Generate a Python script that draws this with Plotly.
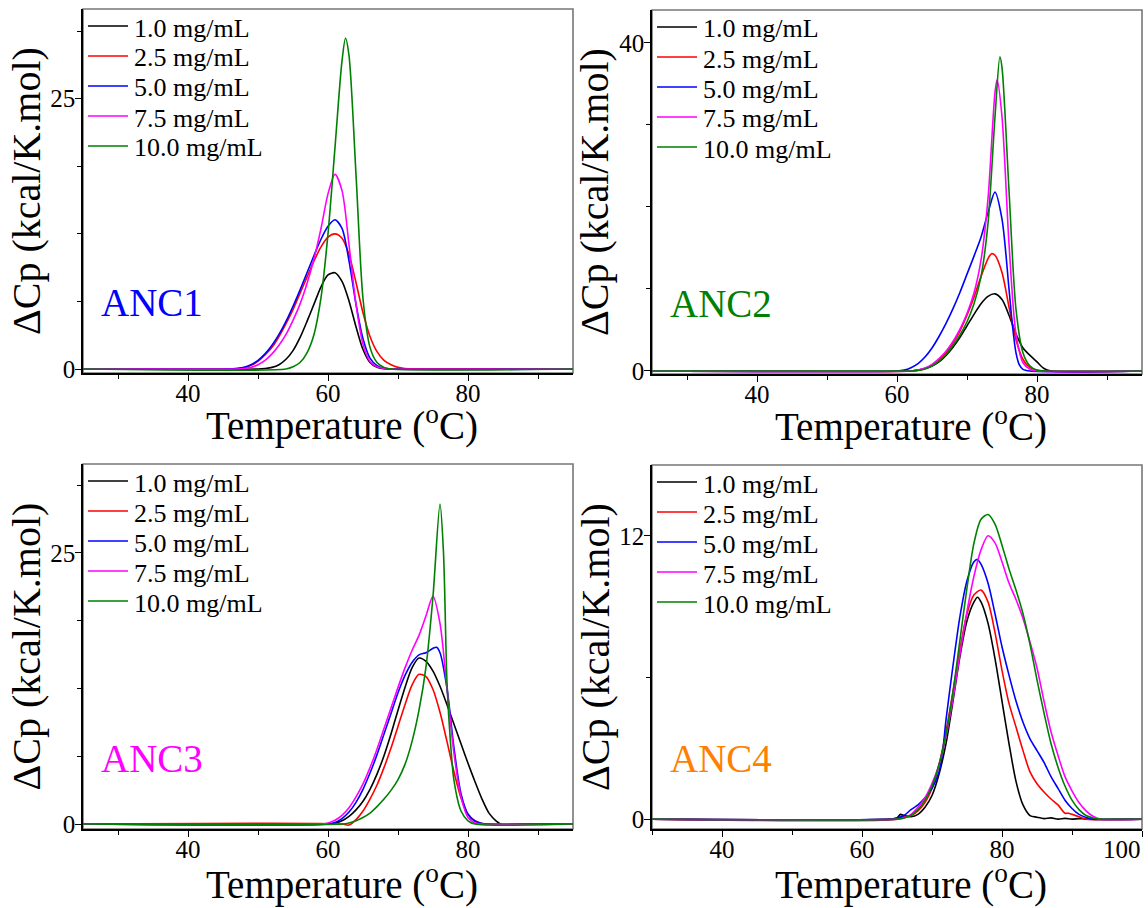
import plotly.graph_objects as go

W, H = 1148, 908
FONT = "'Liberation Serif', 'Times New Roman', Times, serif"

CONC_LABELS = ["1.0 mg/mL", "2.5 mg/mL", "5.0 mg/mL", "7.5 mg/mL", "10.0 mg/mL"]
CONC_COLORS = ["#000000", "#FF0000", "#0000FF", "#FF00FF", "#008000"]
PANEL_NAMES = ["ANC1", "ANC2", "ANC3", "ANC4"]
PANEL_NAME_COLORS = ["#0000FF", "#008000", "#FF00FF", "#FF8000"]

# ---------------- ANC1 ----------------
ANC1_T_1 = [25, 50, 51, 52, 53, 54, 55, 56, 57, 58, 59, 60, 61, 62, 63, 64, 65, 66, 67, 68, 69, 95]
ANC1_CP_1 = [0, 0, 0.05, 0.15, 0.4, 0.9, 1.7, 2.9, 4.4, 6.0, 7.6, 8.7, 8.9, 8.1, 6.3, 3.9, 1.8, 0.6, 0.15, 0.03, 0, 0]
ANC1_T_2 = [25, 46, 47, 48, 49, 50, 51, 52, 53, 54, 55, 56, 57, 58, 59, 60, 61, 62, 63, 64, 65, 66, 67, 68, 69, 70, 71, 72, 95]
ANC1_CP_2 = [0, 0, 0.05, 0.12, 0.35, 0.7, 1.3, 2.0, 3.0, 4.2, 5.5, 7.0, 8.5, 10.0, 11.3, 12.2, 12.5, 12.1, 10.6, 8.0, 5.2, 3.0, 1.6, 0.8, 0.4, 0.15, 0.05, 0, 0]
ANC1_T_5 = [25, 46, 47, 48, 49, 50, 51, 52, 53, 54, 55, 56, 57, 58, 59, 60, 61, 62, 63, 64, 65, 66, 67, 68, 69, 95]
ANC1_CP_5 = [0, 0, 0.05, 0.15, 0.4, 0.8, 1.4, 2.2, 3.2, 4.4, 5.8, 7.3, 8.9, 10.5, 12.0, 13.2, 13.8, 13.0, 10.0, 6.0, 2.8, 1.0, 0.3, 0.08, 0, 0]
ANC1_T_7 = [25, 47, 48, 49, 50, 51, 52, 53, 54, 55, 56, 57, 58, 59, 60, 61, 62, 63, 64, 65, 66, 67, 68, 69, 95]
ANC1_CP_7 = [0, 0, 0.05, 0.15, 0.4, 0.8, 1.4, 2.2, 3.2, 4.5, 6.0, 7.9, 10.2, 13.0, 16.2, 18.0, 16.5, 11.5, 6.0, 2.3, 0.7, 0.2, 0.05, 0, 0]
ANC1_T_10 = [25, 54, 55, 56, 57, 58, 59, 60, 61, 62, 62.5, 63, 64, 65, 66, 67, 68, 69, 95]
ANC1_CP_10 = [0, 0, 0.2, 0.6, 1.5, 3.2, 6.6, 12.5, 20.5, 28.5, 30.6, 29.0, 18.0, 6.5, 2.0, 0.6, 0.15, 0, 0]

# ---------------- ANC2 ----------------
ANC2_T_1 = [25, 62, 63, 64, 65, 66, 67, 68, 69, 70, 71, 72, 73, 74, 75, 76, 77, 78, 79, 80, 81, 82, 95]
ANC2_CP_1 = [0, 0, 0.1, 0.3, 0.6, 1.1, 1.9, 2.9, 4.1, 5.5, 6.9, 8.2, 9.1, 9.4, 8.7, 6.8, 4.5, 2.8, 1.9, 1.1, 0.3, 0, 0]
ANC2_T_2 = [25, 62, 63, 64, 65, 66, 67, 68, 69, 70, 71, 72, 73, 73.5, 74, 75, 76, 77, 78, 79, 80, 81, 95]
ANC2_CP_2 = [0, 0, 0.1, 0.3, 0.7, 1.3, 2.2, 3.4, 4.9, 6.8, 9.0, 11.5, 13.7, 14.3, 14.1, 12.0, 7.8, 3.8, 1.4, 0.4, 0.1, 0, 0]
ANC2_T_5 = [25, 60, 61, 62, 63, 64, 65, 66, 67, 68, 69, 70, 71, 72, 73, 74, 75, 76, 76.5, 77, 77.5, 78, 79, 95]
ANC2_CP_5 = [0, 0, 0.1, 0.4, 0.9, 1.7, 2.8, 4.2, 5.8, 7.6, 9.6, 11.8, 14.0, 16.3, 19.3, 21.8, 18.5, 10.0, 5.5, 2.2, 0.7, 0.2, 0, 0]
ANC2_T_7 = [25, 62, 63, 64, 65, 66, 67, 68, 69, 70, 71, 72, 73, 74, 74.3, 75, 76, 77, 78, 79, 80, 95]
ANC2_CP_7 = [0, 0, 0.1, 0.35, 0.8, 1.5, 2.4, 3.6, 5.1, 7.0, 9.5, 13.5, 21.0, 34.0, 35.5, 31.0, 15.5, 4.5, 1.0, 0.2, 0, 0]
ANC2_T_10 = [25, 62, 63, 64, 65, 66, 67, 68, 69, 70, 71, 72, 73, 74, 74.7, 75, 76, 77, 78, 79, 80, 81, 95]
ANC2_CP_10 = [0, 0, 0.05, 0.25, 0.6, 1.2, 2.0, 3.1, 4.4, 6.0, 8.2, 11.5, 18.0, 31.0, 38.3, 37.0, 22.0, 7.5, 2.2, 0.6, 0.1, 0, 0]

# ---------------- ANC3 ----------------
ANC3_T_1 = [25, 60, 61, 62, 63, 64, 65, 66, 67, 68, 69, 70, 71, 72, 73, 74, 75, 76, 77, 78, 79, 80, 81, 82, 83, 84, 85, 86, 87, 95]
ANC3_CP_1 = [0, 0, 0.1, 0.3, 0.7, 1.3, 2.1, 3.2, 4.6, 6.3, 8.3, 10.5, 12.6, 14.4, 15.3, 15.0, 14.1, 12.7, 11.0, 9.2, 7.4, 5.6, 3.9, 2.3, 1.0, 0.3, -0.1, -0.05, 0, 0]
ANC3_T_2 = [25, 62, 63, 64, 65, 66, 67, 68, 69, 70, 71, 72, 73, 74, 75, 76, 77, 78, 79, 80, 81, 82, 83, 95]
ANC3_CP_2 = [0, 0, -0.1, 0.4, 1.2, 2.3, 3.6, 5.2, 7.0, 9.0, 11.0, 12.8, 13.8, 13.6, 12.4, 10.3, 7.6, 4.8, 2.4, 0.9, 0.3, 0.05, 0, 0]
ANC3_T_5 = [25, 60, 61, 62, 63, 64, 65, 66, 67, 68, 69, 70, 71, 72, 73, 74, 75, 75.5, 76, 77, 78, 79, 80, 81, 82, 83, 95]
ANC3_CP_5 = [0, 0, 0.15, 0.5, 1.1, 2.0, 3.2, 4.7, 6.4, 8.3, 10.2, 12.1, 13.7, 14.9, 15.6, 15.8, 16.2, 16.3, 15.8, 12.5, 7.0, 2.8, 0.9, 0.25, 0.05, 0, 0]
ANC3_T_7 = [25, 59, 60, 61, 62, 63, 64, 65, 66, 67, 68, 69, 70, 71, 72, 73, 74, 75, 76, 77, 78, 79, 80, 81, 82, 95]
ANC3_CP_7 = [0, 0, 0.1, 0.35, 0.8, 1.5, 2.5, 3.7, 5.2, 6.9, 8.8, 10.7, 12.6, 14.4, 16.0, 17.4, 19.2, 21.0, 18.5, 12.5, 6.5, 2.5, 0.6, 0.1, 0, 0]
ANC3_T_10 = [25, 62, 63, 64, 65, 66, 67, 68, 69, 70, 71, 72, 73, 74, 75, 76, 76.5, 77, 77.5, 78, 79, 80, 81, 95]
ANC3_CP_10 = [0, 0, 0.1, 0.3, 0.6, 1.0, 1.6, 2.3, 3.1, 4.1, 5.5, 7.6, 10.5, 14.5, 21.0, 29.5, 25.0, 13.0, 7.5, 4.0, 1.2, 0.3, 0, 0]

# ---------------- ANC4 ----------------
ANC4_T_1 = [30, 64, 65, 65.5, 66, 67, 68, 69, 70, 71, 72, 73, 74, 75, 76, 76.5, 77, 78, 79, 80, 81, 82, 83, 84, 85, 86, 87, 88, 89, 90, 91, 92, 100]
ANC4_CP_1 = [0, 0, 0.05, 0.2, 0.15, 0.1, 0.2, 0.5, 1.0, 1.9, 3.2, 5.0, 6.9, 8.4, 9.2, 9.4, 9.2, 8.3, 6.8, 5.0, 3.2, 1.6, 0.6, 0.15, 0.08, 0.02, 0.05, 0, 0.03, 0, 0.02, 0, 0]
ANC4_T_2 = [30, 65, 66, 67, 68, 69, 70, 71, 72, 73, 74, 75, 76, 77, 78, 79, 80, 81, 82, 83, 84, 85, 86, 87, 88, 89, 89.5, 90, 91, 92, 100]
ANC4_CP_2 = [0, 0, 0.1, 0.15, 0.35, 0.7, 1.3, 2.3, 3.7, 5.4, 7.2, 8.7, 9.5, 9.7, 9.2, 7.9, 6.3, 4.9, 3.9, 2.9, 2.0, 1.5, 1.15, 0.85, 0.6, 0.25, 0.25, 0.2, 0.1, 0, 0]
ANC4_T_5 = [30, 64, 65, 66, 67, 68, 69, 70, 71, 71.5, 72, 73, 74, 75, 76, 76.5, 77, 78, 79, 80, 81, 82, 83, 84, 85, 86, 87, 88, 89, 90, 91, 92, 93, 100]
ANC4_CP_5 = [0, 0, 0.05, 0.15, 0.4, 0.6, 0.9, 1.3, 2.0, 2.8, 4.2, 6.5, 8.6, 10.1, 10.9, 11.0, 10.8, 10.0, 8.7, 7.3, 6.1, 5.0, 4.1, 3.4, 2.9, 2.4, 1.8, 1.3, 0.8, 0.45, 0.2, 0.07, 0, 0]
ANC4_T_7 = [30, 65, 66, 67, 68, 69, 70, 71, 72, 73, 74, 75, 76, 77, 78, 79, 80, 81, 82, 83, 84, 85, 86, 87, 88, 89, 90, 91, 92, 93, 94, 100]
ANC4_CP_7 = [0, 0, 0.05, 0.2, 0.5, 0.9, 1.5, 2.3, 3.5, 5.1, 7.0, 8.8, 10.3, 11.4, 12.0, 11.7, 10.9, 10.0, 9.3, 8.5, 7.5, 6.4, 5.0, 3.7, 2.7, 1.8, 1.2, 0.7, 0.35, 0.12, 0, 0]
ANC4_T_10 = [30, 65, 66, 67, 68, 69, 70, 71, 72, 73, 74, 75, 76, 77, 78, 79, 80, 81, 82, 83, 84, 85, 86, 87, 88, 89, 90, 91, 92, 93, 94, 100]
ANC4_CP_10 = [0, 0, 0.05, 0.15, 0.4, 0.8, 1.4, 2.3, 3.6, 5.4, 7.6, 9.8, 11.7, 12.7, 12.9, 12.5, 11.6, 10.6, 9.7, 8.7, 7.4, 5.9, 4.5, 3.2, 2.2, 1.4, 0.8, 0.4, 0.15, 0.05, 0, 0]

PANEL_CURVES = [
    [(ANC1_T_1, ANC1_CP_1), (ANC1_T_2, ANC1_CP_2), (ANC1_T_5, ANC1_CP_5), (ANC1_T_7, ANC1_CP_7), (ANC1_T_10, ANC1_CP_10)],
    [(ANC2_T_1, ANC2_CP_1), (ANC2_T_2, ANC2_CP_2), (ANC2_T_5, ANC2_CP_5), (ANC2_T_7, ANC2_CP_7), (ANC2_T_10, ANC2_CP_10)],
    [(ANC3_T_1, ANC3_CP_1), (ANC3_T_2, ANC3_CP_2), (ANC3_T_5, ANC3_CP_5), (ANC3_T_7, ANC3_CP_7), (ANC3_T_10, ANC3_CP_10)],
    [(ANC4_T_1, ANC4_CP_1), (ANC4_T_2, ANC4_CP_2), (ANC4_T_5, ANC4_CP_5), (ANC4_T_7, ANC4_CP_7), (ANC4_T_10, ANC4_CP_10)],
]

X_RANGES = [[25, 95], [25, 95], [25, 95], [30, 100]]
X_TICKS = [[40, 60, 80], [40, 60, 80], [40, 60, 80], [40, 60, 80, 100]]
Y_RANGES = [[-0.37, 33.3], [-0.37, 44.0], [-0.46, 33.2], [-0.42, 15.0]]
Y_DTICK = [25, 40, 25, 12]
Y_MINOR = [6.25, 10, 6.25, 6]

# panel boxes in pixels: left, right, top, bottom
BOXES = [(83, 573, 9, 373), (652, 1142, 10, 374), (83, 573, 464, 829), (652, 1142, 465, 829)]
XTITLE_GAP = [50, 50, 53, 53]


def px_x(p):
    return p / W


def px_y(p):
    return 1 - p / H


fig = go.Figure()
layout = dict(
    width=W, height=H,
    margin=dict(l=0, r=0, t=0, b=0, autoexpand=False),
    paper_bgcolor="white", plot_bgcolor="white",
    showlegend=False,
    font=dict(family=FONT, color="black"),
)

shapes = []
annotations = []

for i in range(4):
    n = i + 1
    xa = "x" if n == 1 else f"x{n}"
    ya = "y" if n == 1 else f"y{n}"
    left, right, top, bottom = BOXES[i]

    for (t, cp), label, color in zip(PANEL_CURVES[i], CONC_LABELS, CONC_COLORS):
        fig.add_trace(go.Scatter(
            x=t, y=cp, mode="lines", name=label,
            line=dict(color=color, width=1.6, shape="spline", smoothing=0.8),
            xaxis=xa, yaxis=ya,
        ))

    # the last tick label at the right page edge is drawn separately (right-aligned)
    xticks = X_TICKS[i]
    xtext = [str(v) if v < X_RANGES[i][1] else "" for v in xticks]
    layout["xaxis" if n == 1 else f"xaxis{n}"] = dict(
        domain=[px_x(left), px_x(right)], range=X_RANGES[i], anchor=ya,
        tickvals=xticks, ticktext=xtext, ticks="outside", ticklen=6, tickwidth=1.2,
        tickcolor="black", ticklabelstandoff=-9, automargin=False,
        showline=True, linecolor="black", linewidth=1.6,
        showgrid=False, zeroline=False,
        minor=dict(dtick=10, tick0=0, ticks="outside", ticklen=4, tickwidth=1.2,
                   tickcolor="black", showgrid=False),
        tickfont=dict(family=FONT, size=25, color="black"),
    )
    layout["yaxis" if n == 1 else f"yaxis{n}"] = dict(
        domain=[px_y(bottom), px_y(top)], range=Y_RANGES[i], anchor=xa,
        tick0=0, dtick=Y_DTICK[i], ticks="outside", ticklen=6, tickwidth=1.2, tickcolor="black",
        ticklabelstandoff=-5, automargin=False,
        showline=True, linecolor="black", linewidth=1.6,
        showgrid=False, zeroline=False,
        minor=dict(dtick=Y_MINOR[i], tick0=0, ticks="outside", ticklen=4, tickwidth=1.2,
                   tickcolor="black", showgrid=False),
        tickfont=dict(family=FONT, size=25, color="black"),
    )
    for v in xticks:
        if v >= X_RANGES[i][1]:
            annotations.append(dict(
                text=str(v), xref=xa, yref="paper", x=v, y=px_y(bottom + 20),
                xanchor="right", yanchor="middle", showarrow=False, xshift=1,
                font=dict(family=FONT, size=25, color="black"),
            ))

    # grey frame around each panel
    shapes.append(dict(type="rect", xref=f"{xa} domain", yref=f"{ya} domain",
                       x0=0, x1=1, y0=0, y1=1, layer="below",
                       line=dict(color="#777777", width=1.6)))

    # axis titles
    annotations.append(dict(
        text="Temperature (<sup>o</sup>C)", xref="paper", yref="paper",
        x=px_x((left + right) / 2 + 14), y=px_y(bottom + XTITLE_GAP[i]),
        xanchor="center", yanchor="middle", showarrow=False,
        font=dict(family=FONT, size=39, color="black"),
    ))
    annotations.append(dict(
        text="ΔCp (kcal/K.mol)", xref="paper", yref="paper",
        x=px_x(left - 57), y=px_y((top + bottom) / 2),
        xanchor="center", yanchor="middle", textangle=-90, showarrow=False,
        font=dict(family=FONT, size=40, color="black"),
    ))

    # panel name
    annotations.append(dict(
        text=PANEL_NAMES[i], xref="paper", yref="paper",
        x=px_x(left + 16), y=px_y(bottom - 71),
        xanchor="left", yanchor="middle", showarrow=False,
        font=dict(family=FONT, size=39, color=PANEL_NAME_COLORS[i]),
    ))

    # concentration key
    for k, (label, color) in enumerate(zip(CONC_LABELS, CONC_COLORS)):
        row_y = top + 17 + 30 * k
        shapes.append(dict(type="line", xref="paper", yref="paper",
                           x0=px_x(left + 5), x1=px_x(left + 45),
                           y0=px_y(row_y), y1=px_y(row_y),
                           line=dict(color=color, width=1.6)))
        annotations.append(dict(
            text=label, xref="paper", yref="paper",
            x=px_x(left + 49), y=px_y(row_y + 2),
            xanchor="left", yanchor="middle", showarrow=False,
            font=dict(family=FONT, size=26, color="black"),
        ))

layout["shapes"] = shapes
layout["annotations"] = annotations
fig.update_layout(**layout)

fig.write_html("out.html")
